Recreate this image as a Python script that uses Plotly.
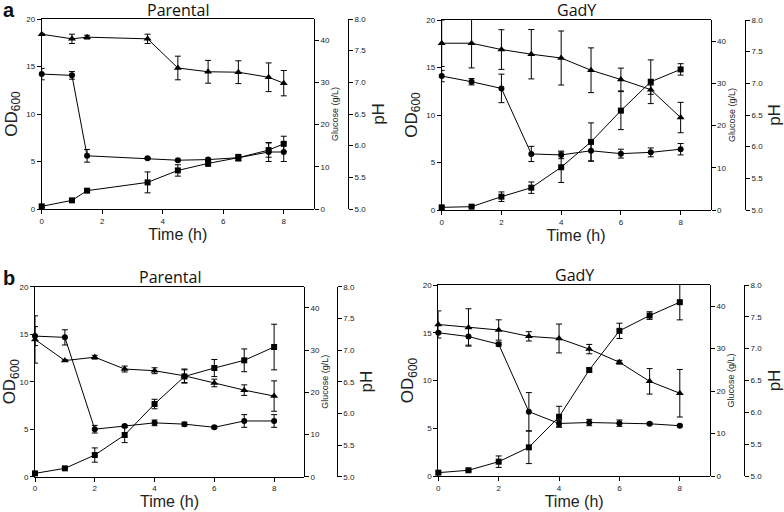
import plotly.graph_objects as go

# ---------------- data ----------------
# Panel a, Parental
aP_time = [0, 1, 1.5, 3.5, 4.5, 5.5, 6.5, 7.5, 8]
aP_od = [0.28, 0.91, 1.93, 2.8, 4.06, 4.8, 5.4, 6.2, 6.86]
aP_od_err = [0.1, 0.1, 0.15, 1.1, 0.6, 0.3, 0.35, 0.75, 0.8]
aP_glc = [41.4, 40.3, 40.7, 40.3, 33.4, 32.5, 32.4, 31.2, 29.8]
aP_glc_err = [0.2, 1.1, 0.45, 1.1, 2.8, 2.7, 2.7, 3.4, 3.0]
aP_ph = [7.13, 7.11, 5.84, 5.80, 5.77, 5.78, 5.81, 5.90, 5.90]
aP_ph_err = [0.09, 0.06, 0.1, 0.015, 0.015, 0.02, 0.045, 0.15, 0.15]

# Panel a, GadY
aG_time = [0, 1, 2, 3, 4, 5, 6, 7, 8]
aG_od = [0.28, 0.35, 1.4, 2.35, 4.5, 7.17, 10.46, 13.5, 14.8]
aG_od_err = [0.1, 0.05, 0.5, 0.6, 1.6, 2.0, 2.0, 2.3, 0.6]
aG_glc = [39.5, 39.5, 38.0, 36.9, 36.0, 33.1, 30.9, 28.5, 21.9]
aG_glc_err = [5.5, 5.85, 4.7, 5.85, 6.4, 5.3, 2.7, 1.1, 3.6]
aG_ph = [7.115, 7.025, 6.92, 5.885, 5.87, 5.935, 5.89, 5.91, 5.96]
aG_ph_err = [0.09, 0.05, 0.225, 0.12, 0.06, 0.165, 0.07, 0.07, 0.09]

# Panel b, Parental
bP_time = [0, 1, 2, 3, 4, 5, 6, 7, 8]
bP_od = [0.35, 0.88, 2.28, 4.39, 7.65, 10.55, 11.44, 12.25, 13.65]
bP_od_err = [0.1, 0.1, 0.75, 0.8, 0.5, 0.7, 0.9, 1.2, 2.4]
bP_glc = [32.5, 27.5, 28.3, 25.5, 25.1, 23.9, 22.2, 20.5, 19.1]
bP_glc_err = [5.6, 0.2, 0.45, 0.7, 0.7, 1.6, 0.9, 1.25, 3.6]
bP_ph = [7.22, 7.2, 5.75, 5.8, 5.85, 5.83, 5.78, 5.88, 5.88]
bP_ph_err = [0.15, 0.12, 0.06, 0.015, 0.045, 0.03, 0.02, 0.1, 0.1]

# Panel b, GadY
bG_time = [0, 1, 2, 3, 4, 5, 6, 7, 8]
bG_od = [0.35, 0.6, 1.5, 3.0, 6.2, 11.1, 15.2, 16.8, 18.2]
bG_od_err = [0.1, 0.1, 0.6, 1.7, 1.1, 0.2, 0.8, 0.4, 1.85]
bG_glc = [35.7, 35.0, 34.4, 32.9, 32.4, 29.9, 26.8, 22.3, 19.5]
bG_glc_err = [3.2, 4.4, 2.4, 1.1, 3.4, 1.1, 0.45, 3.0, 5.6]
bG_ph = [7.25, 7.19, 7.07, 6.01, 5.825, 5.84, 5.83, 5.82, 5.79]
bG_ph_err = [0.015, 0.135, 0.03, 0.3, 0.045, 0.05, 0.05, 0.015, 0.015]

x_ticks = [0, 2, 4, 6, 8]
od_ticks = [0, 5, 10, 15, 20]
glc_ticks = [0, 10, 20, 30, 40]
ph_ticks = [5.0, 5.5, 6.0, 6.5, 7.0, 7.5, 8.0]
X_MAX = 9

W, H = 784, 512

panels = [
    dict(title="Parental", label="a", t=aP_time, od=aP_od, ode=aP_od_err, g=aP_glc, ge=aP_glc_err,
         p=aP_ph, pe=aP_ph_err, xd=(41.7, 314), yd=(19, 209), ph=348, tx=178, ty=10),
    dict(title="GadY", label=None, t=aG_time, od=aG_od, ode=aG_od_err, g=aG_glc, ge=aG_glc_err,
         p=aG_ph, pe=aG_ph_err, xd=(441.7, 710.5), yd=(20, 210), ph=745, tx=576, ty=10),
    dict(title="Parental", label="b", t=bP_time, od=bP_od, ode=bP_od_err, g=bP_glc, ge=bP_glc_err,
         p=bP_ph, pe=bP_ph_err, xd=(35, 304), yd=(286.7, 476.7), ph=336.7, tx=170, ty=277),
    dict(title="GadY", label=None, t=bG_time, od=bG_od, ode=bG_od_err, g=bG_glc, ge=bG_glc_err,
         p=bG_ph, pe=bG_ph_err, xd=(438.3, 710), yd=(285, 476), ph=744, tx=574, ty=275),
]

fig = go.Figure()
layout = {}
annotations = []

FONT = "Arial, Liberation Sans"
tickfont = dict(family=FONT, size=8, color="#222")
line_style = dict(color="black", width=1)


def ref(prefix, n):
    return prefix if n == 1 else f"{prefix}{n}"


def err(arr):
    return dict(type="data", array=arr, color="black", thickness=1, width=3)


for i, p in enumerate(panels):
    xn, xh = 2 * i + 1, 2 * i + 2          # main x axis, hidden x axis carrying the pH axis
    yo, yg, yp = 3 * i + 1, 3 * i + 2, 3 * i + 3
    xr, xhr = ref("x", xn), ref("x", xh)
    common = dict(mode="lines+markers", line=line_style, cliponaxis=False, showlegend=False,
                  hoverinfo="skip")
    fig.add_trace(go.Scatter(x=p["t"], y=p["od"], error_y=err(p["ode"]),
                             marker=dict(symbol="square", size=6, color="black"),
                             xaxis=xr, yaxis=ref("y", yo), **common))
    fig.add_trace(go.Scatter(x=p["t"], y=p["g"], error_y=err(p["ge"]),
                             marker=dict(symbol="triangle-up", size=7, color="black"),
                             xaxis=xr, yaxis=ref("y", yg), **common))
    fig.add_trace(go.Scatter(x=p["t"], y=p["p"], error_y=err(p["pe"]),
                             marker=dict(symbol="circle", size=6, color="black"),
                             xaxis=xhr, yaxis=ref("y", yp), **common))

    x0, x1 = p["xd"]
    xd = [x0 / W, x1 / W]
    xhd = [x0 / W, p["ph"] / W]
    xh_max = X_MAX * (p["ph"] - x0) / (x1 - x0)   # keeps the same time scale as the main axis
    yd = [1 - p["yd"][1] / H, 1 - p["yd"][0] / H]
    axbase = dict(showline=True, linecolor="black", linewidth=1, ticks="outside", ticklen=4,
                  tickcolor="black", showgrid=False, zeroline=False, tickfont=tickfont,
                  automargin=False)
    layout[ref("xaxis", xn)] = dict(
        domain=xd, anchor=ref("y", yo), range=[0, X_MAX], tickvals=x_ticks, mirror=True,
        title=dict(text="Time (h)", font=dict(family=FONT, size=16, color="#222"), standoff=2),
        **axbase)
    layout[ref("xaxis", xh)] = dict(domain=xhd, anchor=ref("y", yp), range=[0, xh_max],
                                    visible=False, automargin=False, showgrid=False, zeroline=False)
    layout[ref("yaxis", yo)] = dict(
        domain=yd, anchor=xr, range=[0, 20], tickvals=od_ticks,
        title=dict(text="OD<sub>600</sub>", font=dict(family=FONT, size=17, color="#222"), standoff=4),
        **axbase)
    layout[ref("yaxis", yg)] = dict(
        domain=yd, anchor=xr, side="right", range=[0, 45], tickvals=glc_ticks,
        title=dict(text="Glucose (g/L)", font=dict(family=FONT, size=9, color="#222"), standoff=2),
        **axbase)
    layout[ref("yaxis", yp)] = dict(
        domain=yd, anchor=xhr, side="right", range=[5, 8],
        tickvals=ph_ticks, tickformat=".1f",
        title=dict(text="pH", font=dict(family=FONT, size=17, color="#222"), standoff=6),
        **axbase)

    annotations.append(dict(text=p["title"], x=p["tx"] / W, y=1 - p["ty"] / H, xref="paper", yref="paper",
                            showarrow=False, xanchor="center", yanchor="middle",
                            font=dict(family="Open Sans, Lato", size=16, color="#111")))
    if p["label"]:
        ly = 10 if p["label"] == "a" else 278
        annotations.append(dict(text=f"<b>{p['label']}</b>", x=9 / W, y=1 - ly / H, xref="paper", yref="paper",
                                showarrow=False, xanchor="center", yanchor="middle",
                                font=dict(family=FONT, size=20, color="#111")))

fig.update_layout(
    width=W, height=H, margin=dict(l=0, r=0, t=0, b=0, autoexpand=False),
    paper_bgcolor="white", plot_bgcolor="rgba(0,0,0,0)", hovermode=False,
    annotations=annotations, **layout,
)

fig.write_html("out.html", config={"displayModeBar": False},
               post_script="document.body.style.margin='0';document.body.style.overflow='hidden';")
